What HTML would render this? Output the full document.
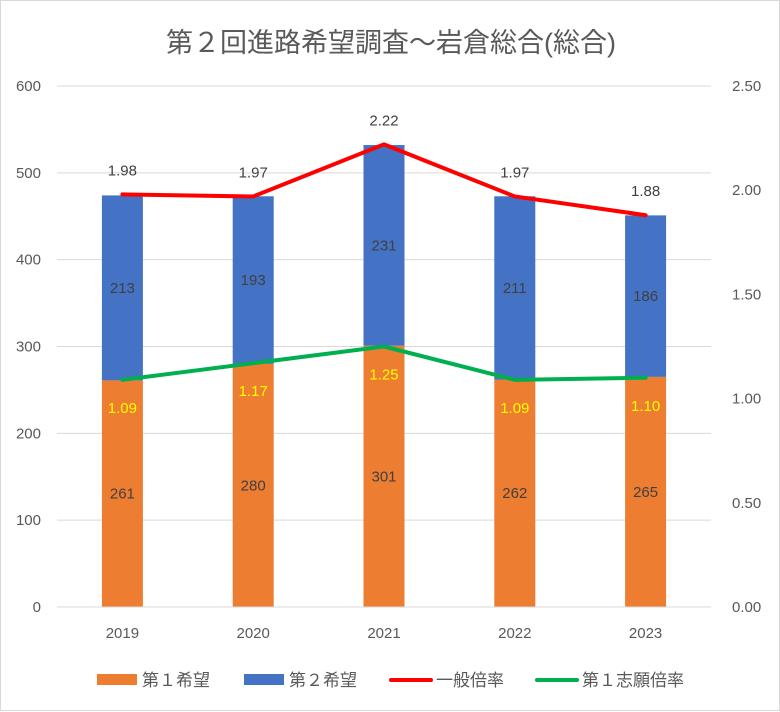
<!DOCTYPE html>
<html><head><meta charset="utf-8">
<style>
body{margin:0;background:#fff;}
#wrap{position:relative;width:780px;height:711px;box-sizing:border-box;border:1px solid #d9d9d9;}
svg{position:absolute;left:0;top:0;font-family:"Liberation Sans","Noto Sans CJK JP",sans-serif;}
</style></head>
<body>
<div id="wrap">
<svg id="chart" width="780" height="711"></svg>
</div>
<script>
const categories=["2019","2020","2021","2022","2023"];
const first=[261,280,301,262,265];
const second=[213,193,231,211,186];
const general=[1.98,1.97,2.22,1.97,1.88];
const firstRatio=[1.09,1.17,1.25,1.09,1.10];
const leftTicks=[0,100,200,300,400,500,600];
const rightTicks=["0.00","0.50","1.00","1.50","2.00","2.50"];

const NS="http://www.w3.org/2000/svg";
const svg=document.getElementById('chart');
const top0=85,bot=606,left=56,right=710;
const yL=v=>bot-(v/600)*(bot-top0);
const yR=v=>bot-(v/2.5)*(bot-top0);
const step=(right-left)/categories.length;
const xC=i=>left+step*(i+0.5);
const bw=41;
function el(t,a,txt){const e=document.createElementNS(NS,t);for(const k in a)e.setAttribute(k,a[k]);if(txt!==undefined)e.textContent=txt;svg.appendChild(e);return e;}

const title=el('text',{x:390,y:51,'text-anchor':'middle','font-size':27,fill:'#595959'},'第２回進路希望調査～岩倉総合(総合)');



leftTicks.forEach(v=>{
  const g=el('line',{x1:left,x2:right,y1:yL(v),y2:yL(v),stroke:'#d9d9d9','stroke-width':1});
  
  
  const t=el('text',{x:40,y:yL(v)+5,'text-anchor':'end','font-size':15,fill:'#595959'},v);
  
  
});
rightTicks.forEach(s=>{
  const t=el('text',{x:731,y:yR(parseFloat(s))+5,'text-anchor':'start','font-size':15,fill:'#595959'},s);
  
  
});

categories.forEach((c,i)=>{
  const x=xC(i)-bw/2;
  const b1=el('rect',{x:x,y:yL(first[i]),width:bw,height:bot-yL(first[i]),fill:'#ED7D31'});
  
  
  const b2=el('rect',{x:x,y:yL(first[i]+second[i]),width:bw,height:yL(first[i])-yL(first[i]+second[i]),fill:'#4472C4'});
  
  
  const l1=el('text',{x:xC(i),y:(yL(first[i])+bot)/2+5,'text-anchor':'middle','font-size':15,fill:'#404040'},first[i]);
  
  
  const l2=el('text',{x:xC(i),y:(yL(first[i])+yL(first[i]+second[i]))/2+5,'text-anchor':'middle','font-size':15,fill:'#404040'},second[i]);
  
  
  const cl=el('text',{x:xC(i),y:637,'text-anchor':'middle','font-size':15,fill:'#595959'},c);
  
  
});
const ax=el('line',{x1:left,x2:right,y1:bot,y2:bot,stroke:'#d9d9d9','stroke-width':1});



const pr=el('polyline',{points:general.map((v,i)=>xC(i)+','+yR(v)).join(' '),fill:'none',stroke:'#FF0000','stroke-width':4,'stroke-linejoin':'round','stroke-linecap':'round'});


const pg=el('polyline',{points:firstRatio.map((v,i)=>xC(i)+','+yR(v)).join(' '),fill:'none',stroke:'#00B050','stroke-width':4,'stroke-linejoin':'round','stroke-linecap':'round'});



general.forEach((v,i)=>{
  const t=el('text',{x:xC(i),y:yR(v)-19,'text-anchor':'middle','font-size':15,fill:'#404040'},v.toFixed(2));
  
  
});
firstRatio.forEach((v,i)=>{
  const t=el('text',{x:xC(i),y:yR(v)+33,'text-anchor':'middle','font-size':15,fill:'#FFFF00'},v.toFixed(2));
  
  
});

const legend=[["rect","#ED7D31","第１希望",96],["rect","#4472C4","第２希望",243],["line","#FF0000","一般倍率",390],["line","#00B050","第１志願倍率",536]];
legend.forEach(([k,c,txt,x])=>{
  if(k==="rect"){
    const r=el('rect',{x:x,y:673,width:40,height:11,fill:c});
    
    
  }else{
    const l=el('line',{x1:x,x2:x+40,y1:679,y2:679,stroke:c,'stroke-width':4,'stroke-linecap':'round'});
    
    
  }
  const t=el('text',{x:x+45,y:685,'font-size':17,fill:'#595959'},txt);
  
  
});
</script>
</body></html>
